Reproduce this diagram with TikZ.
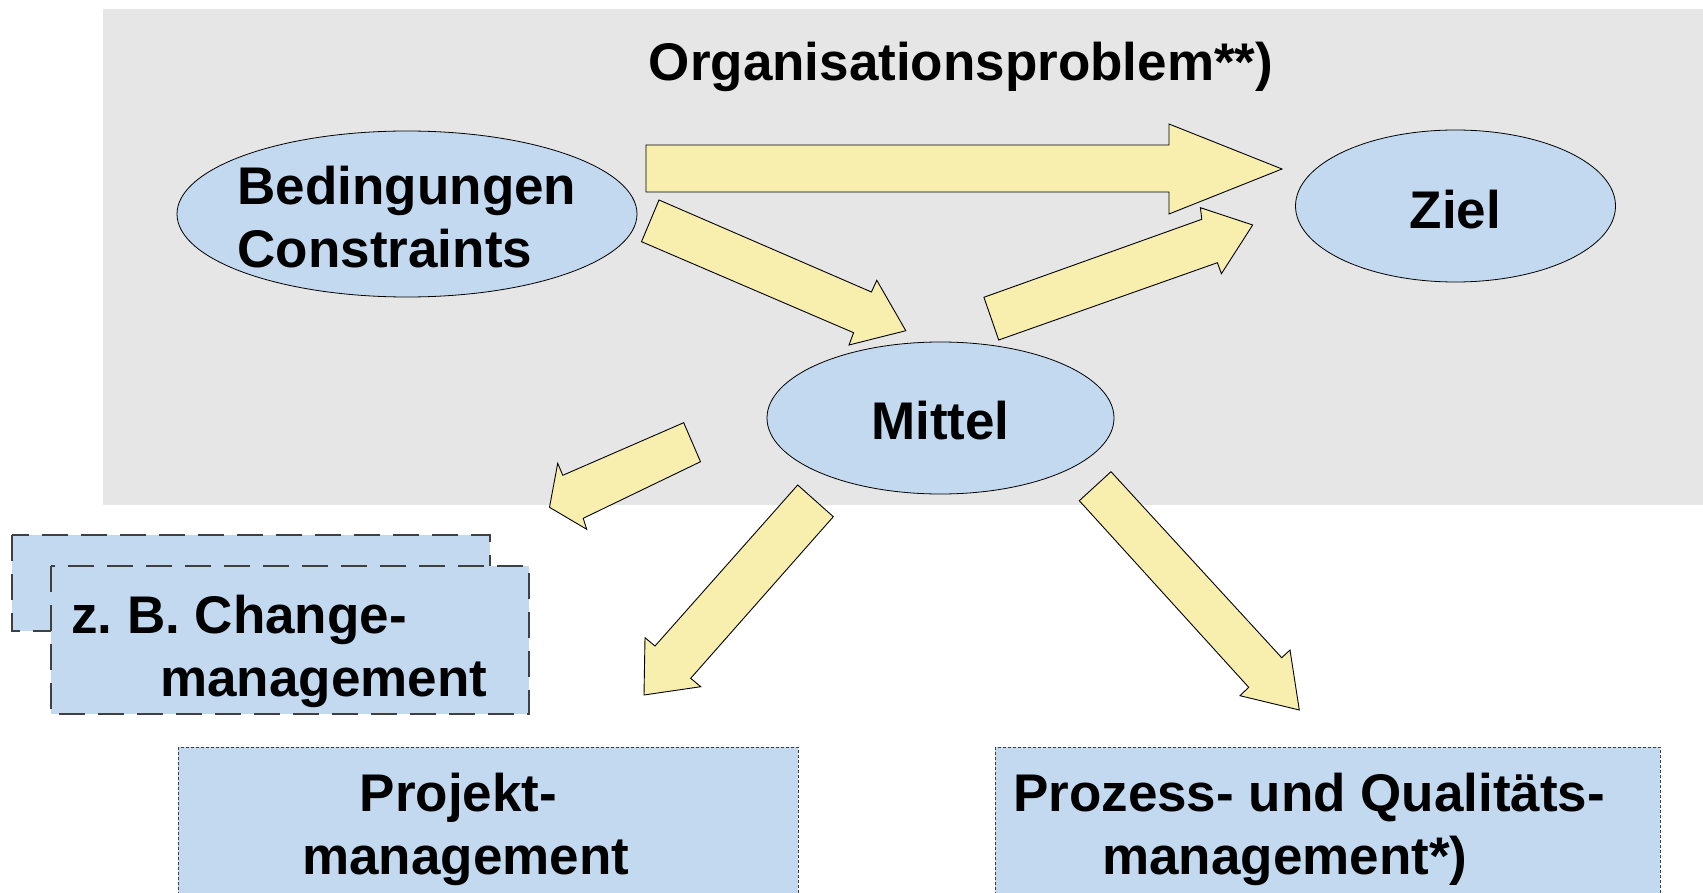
\documentclass[tikz,border=0pt]{standalone}
\usepackage{fontspec}
\setmainfont{Liberation Sans}
\usetikzlibrary{shapes.geometric}
\definecolor{bggray}{HTML}{E6E6E6}
\definecolor{ellblue}{HTML}{C2D9F0}
\definecolor{arrowyellow}{HTML}{F8EFAE}
\definecolor{boxblue}{HTML}{C2D9F0}
\definecolor{edgegray}{HTML}{404040}
\begin{document}
\begin{tikzpicture}[x=1pt,y=-1pt,
  bigtext/.style={font=\fontsize{53}{63}\selectfont\bfseries, inner sep=0pt, align=left},
  ell/.style={ellipse, draw=black, line width=0.8pt, fill=ellblue, inner sep=0pt},
  blockarrow/.style={fill=arrowyellow, draw=black, line width=0.9pt, line join=miter},
  changebox/.style={fill=boxblue, draw=edgegray, line width=1.3pt, dash pattern=on 26pt off 13pt},
  mgmtbox/.style={fill=boxblue, draw=edgegray, line width=1pt, dash pattern=on 3pt off 2pt},
]
\useasboundingbox (0,0) rectangle (1703,893);
\fill[white] (0,0) rectangle (1703,893);
\fill[bggray] (103,9) rectangle (1703,505);

\node[bigtext, anchor=base] (title) at (961,81) {Organisationsproblem**)};

% ellipses
\node[ell, minimum width=460pt, minimum height=166pt] (bed) at (407,214) {};
\node[ell, minimum width=320pt, minimum height=152pt] (ziel) at (1455.5,206) {};
\node[ell, minimum width=347pt, minimum height=152pt] (mittel) at (940.5,418) {};
\node[bigtext] (bedtext) at (407,217) {Bedingungen\\Constraints};
\node[bigtext] (zieltext) at (1455.5,210) {Ziel};
\node[bigtext] (mitteltext) at (940.5,420.5) {Mittel};

% block arrows
\draw[blockarrow] (646,145) -- (1169,145) -- (1169,124) -- (1282,169) -- (1169,214) -- (1169,192) -- (646,192) -- cycle;
\draw[blockarrow] (659,200) -- (871.4,292) -- (876.8,280.3) -- (905.8,330.7) -- (849,345) -- (853.6,332.7) -- (641.5,241.7) -- cycle;
\draw[blockarrow] (983.9,297.3) -- (1201.8,219.3) -- (1200.4,207.7) -- (1252.7,225) -- (1221.4,273.7) -- (1217.4,262.7) -- (998.7,340) -- cycle;
\draw[blockarrow] (683.7,422.7) -- (562.8,475.3) -- (557.7,463.3) -- (549.5,507.3) -- (586.7,529.3) -- (583.2,518.3) -- (700.5,461.7) -- cycle;
\draw[blockarrow] (797.7,485) -- (833.3,516.7) -- (690.7,678.3) -- (700.7,686.7) -- (644,695) -- (645,637.7) -- (655,646) -- cycle;
\draw[blockarrow] (1111,471.7) -- (1281.7,657.7) -- (1290,650) -- (1299.3,710) -- (1240,695.7) -- (1248.7,687.3) -- (1079.3,500.7) -- cycle;

% change management boxes
\draw[changebox] (12,535) rectangle (490,631);
\draw[changebox] (51,566) rectangle (529,714);
\node[bigtext, anchor=north west] (changetext) at (71,595) {z.\ B.\ Change-\\\hspace*{89pt}management};

% management boxes
\draw[mgmtbox] (178,747) rectangle (798,910);
\draw[mgmtbox] (995,747) rectangle (1660,910);
\node[bigtext, anchor=north west] (projtext) at (302,773) {\hspace*{57.5pt}Projekt-\\management};
\node[bigtext, anchor=north west] (prozesstext) at (1013,773) {Prozess- und Qualitäts-\\\hspace*{89pt}management*)};
\end{tikzpicture}
\end{document}
